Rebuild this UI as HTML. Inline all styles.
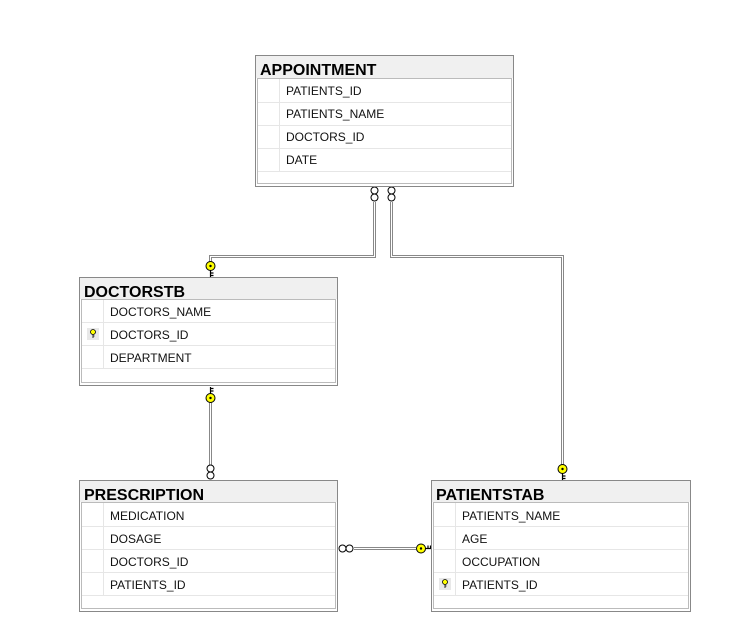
<!DOCTYPE html>
<html><head><meta charset="utf-8"><style>
body{margin:0;background:#fff;width:750px;height:639px;overflow:hidden}
svg{display:block}
.t{font:bold 16px "Liberation Sans",sans-serif;fill:#000}
.r{font:12px "Liberation Sans",sans-serif;fill:#111}
</style></head><body>
<svg width="750" height="639" viewBox="0 0 750 639" xmlns="http://www.w3.org/2000/svg">
<defs>
<g id="inf"><circle cx="0" cy="3.5" r="3.5" fill="#fff" stroke="#000" stroke-width="1"/><circle cx="0" cy="10.5" r="3.5" fill="#fff" stroke="#000" stroke-width="1"/></g>
<g id="infh"><circle cx="3.5" cy="0" r="3.5" fill="#fff" stroke="#000" stroke-width="1"/><circle cx="10.5" cy="0" r="3.5" fill="#fff" stroke="#000" stroke-width="1"/></g>
<g id="keyv"><circle cx="0" cy="0" r="4.5" fill="#ff0" stroke="#000" stroke-width="1"/><circle cx="0" cy="0" r="1.2" fill="#000"/><path d="M0 4.5 V11 M0 7 H3 M0 9.5 H3" stroke="#000" stroke-width="1.2" fill="none"/></g>
<g id="keysm"><rect x="-5" y="-6" width="12" height="12" fill="#e8e8e8"/><circle cx="1" cy="-2" r="2.5" fill="#ff0" stroke="#000" stroke-width="0.8"/><path d="M1 0.5 V4 M1 2 H2.5" stroke="#000" stroke-width="0.8"/></g>
</defs>
<g fill="none">
<path d="M374.5 202 V256.5 H210.5 V262" stroke="#888" stroke-width="3"/><path d="M374.5 202 V256.5 H210.5 V262" stroke="#fff" stroke-width="1"/>
<path d="M391.5 202 V256.5 H562.5 V465" stroke="#888" stroke-width="3"/><path d="M391.5 202 V256.5 H562.5 V465" stroke="#fff" stroke-width="1"/>
<path d="M210.5 402 V466" stroke="#888" stroke-width="3"/><path d="M210.5 402 V466" stroke="#fff" stroke-width="1"/>
<path d="M354 548.5 H416" stroke="#888" stroke-width="3"/><path d="M354 548.5 H416" stroke="#fff" stroke-width="1"/>
</g>
<use href="#inf" x="374.5" y="187"/><use href="#inf" x="391.5" y="187"/>
<use href="#inf" x="210.5" y="465"/>
<use href="#infh" x="339" y="548.5"/>
<use href="#keyv" x="210.5" y="266"/>
<g transform="translate(210.5,398) scale(1,-1)"><use href="#keyv"/></g>
<use href="#keyv" x="562.5" y="469"/>
<g transform="translate(421,548.5) rotate(-90)"><use href="#keyv"/></g>

<!-- APPOINTMENT -->
<rect x="255.5" y="55.5" width="258" height="131" fill="#fff" stroke="#888"/>
<rect x="256" y="56" width="257" height="22" fill="#f0f0f0"/>
<text class="t" x="260" y="75">APPOINTMENT</text>
<rect x="257.5" y="78.5" width="254" height="105" fill="#fff" stroke="#bbb"/>
<g stroke="#e6e6e6"><path d="M279.5 79 V171 M258 102.5 H511 M258 125.5 H511 M258 148.5 H511 M258 171.5 H511"/></g>
<text class="r" x="286" y="95">PATIENTS_ID</text>
<text class="r" x="286" y="118">PATIENTS_NAME</text>
<text class="r" x="286" y="141">DOCTORS_ID</text>
<text class="r" x="286" y="164">DATE</text>

<!-- DOCTORSTB -->
<rect x="79.5" y="277.5" width="258" height="108" fill="#fff" stroke="#888"/>
<rect x="80" y="278" width="257" height="21" fill="#f0f0f0"/>
<text class="t" x="84" y="297">DOCTORSTB</text>
<rect x="81.5" y="299.5" width="254" height="83" fill="#fff" stroke="#bbb"/>
<g stroke="#e6e6e6"><path d="M103.5 300 V368 M82 322.5 H335 M82 345.5 H335 M82 368.5 H335"/></g>
<text class="r" x="110" y="316">DOCTORS_NAME</text>
<text class="r" x="110" y="339">DOCTORS_ID</text>
<text class="r" x="110" y="362">DEPARTMENT</text>
<use href="#keysm" x="92" y="334"/>

<!-- PRESCRIPTION -->
<rect x="79.5" y="480.5" width="258" height="131" fill="#fff" stroke="#888"/>
<rect x="80" y="481" width="257" height="21" fill="#f0f0f0"/>
<text class="t" x="84" y="500">PRESCRIPTION</text>
<rect x="81.5" y="502.5" width="254" height="106" fill="#fff" stroke="#bbb"/>
<g stroke="#e6e6e6"><path d="M103.5 503 V596 M82 526.5 H335 M82 549.5 H335 M82 572.5 H335 M82 595.5 H335"/></g>
<text class="r" x="110" y="520">MEDICATION</text>
<text class="r" x="110" y="543">DOSAGE</text>
<text class="r" x="110" y="566">DOCTORS_ID</text>
<text class="r" x="110" y="589">PATIENTS_ID</text>

<!-- PATIENTSTAB -->
<rect x="431.5" y="480.5" width="259" height="131" fill="#fff" stroke="#888"/>
<rect x="432" y="481" width="258" height="21" fill="#f0f0f0"/>
<text class="t" x="436" y="500">PATIENTSTAB</text>
<rect x="433.5" y="502.5" width="255" height="106" fill="#fff" stroke="#bbb"/>
<g stroke="#e6e6e6"><path d="M455.5 503 V596 M434 526.5 H688 M434 549.5 H688 M434 572.5 H688 M434 595.5 H688"/></g>
<text class="r" x="462" y="520">PATIENTS_NAME</text>
<text class="r" x="462" y="543">AGE</text>
<text class="r" x="462" y="566">OCCUPATION</text>
<text class="r" x="462" y="589">PATIENTS_ID</text>
<use href="#keysm" x="444" y="584"/>
</svg>
</body></html>
